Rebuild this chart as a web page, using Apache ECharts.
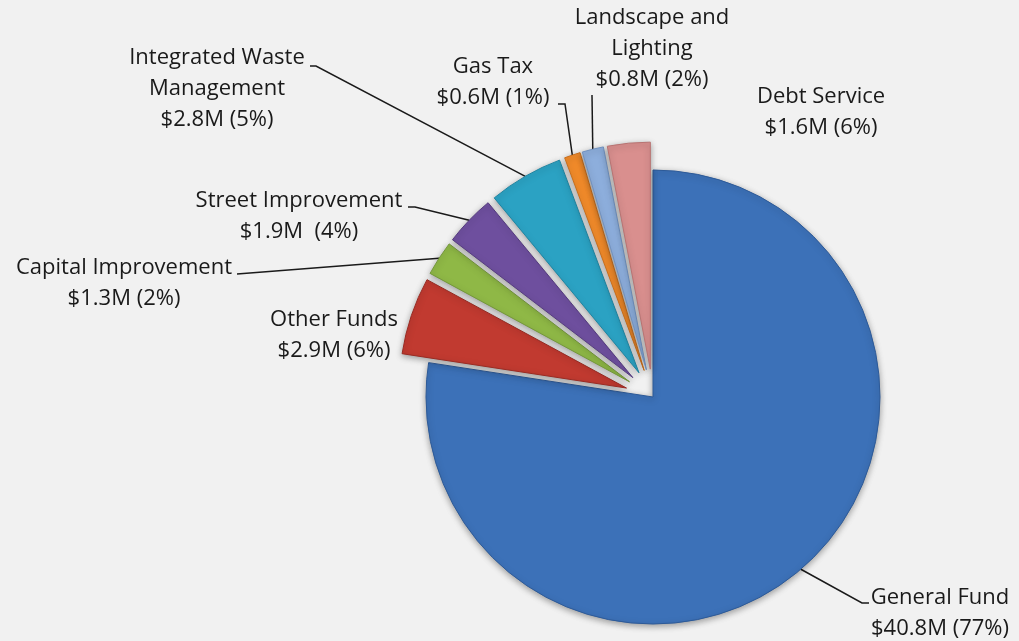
<!DOCTYPE html>
<html><head><meta charset="utf-8">
<script src="https://cdn.jsdelivr.net/npm/echarts@6/dist/echarts.min.js"></script>
<style>html,body{margin:0;padding:0;background:#f1f1f1}#c{width:1019px;height:641px}</style>
</head><body><div id="c"></div>
<script>
const categories = ['General Fund','Other Funds','Capital Improvement','Street Improvement','Integrated Waste Management','Gas Tax','Landscape and Lighting','Debt Service'];
const values = [40.8, 2.9, 1.3, 1.9, 2.8, 0.6, 0.8, 1.6];
const labelTexts = [
  'General Fund\n$40.8M (77%)',
  'Other Funds\n$2.9M (6%)',
  'Capital Improvement\n$1.3M (2%)',
  'Street Improvement\n$1.9M  (4%)',
  'Integrated Waste\nManagement\n$2.8M (5%)',
  'Gas Tax\n$0.6M (1%)',
  'Landscape and\nLighting\n$0.8M (2%)',
  'Debt Service\n$1.6M (6%)'
];
const colors = ['#3c71b8','#c13a30','#8fb846','#6e4f9e','#2ba2c3','#f08a2a','#8daedc','#d98f8e'];
const rims   = ['#2d5a98','#9a2b23','#74983a','#563c80','#1f85a2','#c96e1c','#7091c0','#b87372'];

// label placement (text block centre x, top y) and leader elbow/end points
const labelPlace = [
  {x:940, y:582, line:[[862,603],[869,603]]},
  {x:334, y:304, line:null},
  {x:124, y:252, line:[[237,274],[237,274]]},
  {x:299, y:185, line:[[415,207],[408,207]]},
  {x:217, y:42,  line:[[316,66],[310,66]]},
  {x:493, y:51,  line:[[565,104],[558,104]]},
  {x:652, y:2,   line:[[592,95],[592,95]]},
  {x:821, y:81,  line:null}
];

const CENTER = [653,397], R = 227, OFFSET = 28;
const FONT = {color:'#1a1a1a', fontFamily:'Open Sans', fontSize:22, lineHeight:31, align:'center'};

function layoutFn(p){
  const L = labelPlace[p.dataIndex];
  const r = {x:L.x, y:L.y, align:'center', verticalAlign:'top'};
  if (L.line && p.labelLinePoints) {
    r.labelLinePoints = [p.labelLinePoints[0], L.line[0], L.line[1]];
  }
  return r;
}

const chart = echarts.init(document.getElementById('c'), null, {renderer:'canvas'});
const sliceData = categories.map((c,i)=>({
  name:c, value:values[i], selected: i>0,
  itemStyle:{color:colors[i], borderColor:rims[i], borderWidth:1},
  label:{show: i===0, formatter: labelTexts[i]},
  labelLine:{show: i===0}
}));
const labelData = categories.map((c,i)=>({
  name:c, value:values[i],
  label:{show: i>0, formatter: labelTexts[i]},
  labelLine:{show: i>0 && labelPlace[i].line !== null}
}));
chart.setOption({
  backgroundColor:'#f1f1f1',
  animation:false,
  series:[{
    type:'pie',
    center:CENTER,
    radius:R,
    startAngle:90,
    clockwise:true,
    selectedMode:'multiple',
    selectedOffset:OFFSET,
    avoidLabelOverlap:false,
    minShowLabelAngle:0,
    emphasis:{disabled:true},
    itemStyle:{shadowBlur:6, shadowColor:'rgba(0,0,0,0.35)', shadowOffsetY:2},
    label:Object.assign({position:'outside'}, FONT),
    labelLine:{lineStyle:{color:'#1a1a1a', width:1.5}},
    labelLayout:layoutFn,
    data:sliceData
  },{
    type:'pie',
    silent:true,
    center:CENTER,
    radius:R+OFFSET,
    startAngle:90,
    clockwise:true,
    selectedMode:false,
    avoidLabelOverlap:false,
    minShowLabelAngle:0,
    emphasis:{disabled:true},
    itemStyle:{color:'rgba(0,0,0,0)', borderWidth:0},
    label:Object.assign({position:'outside'}, FONT),
    labelLine:{lineStyle:{color:'#1a1a1a', width:1.5}},
    labelLayout:layoutFn,
    data:labelData
  }]
});
</script></body></html>
